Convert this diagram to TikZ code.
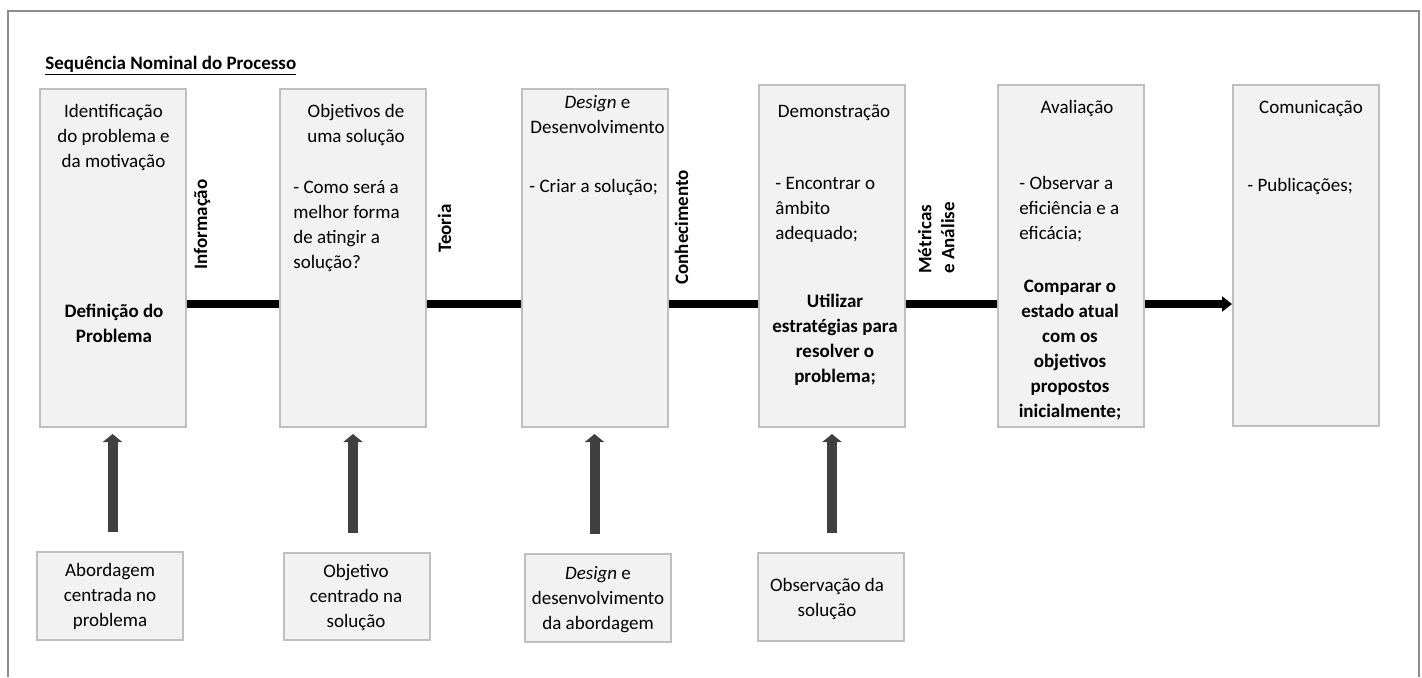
\documentclass[tikz,border=0pt]{standalone}
\usepackage{fontspec}
\setmainfont{Carlito}
\usetikzlibrary{arrows.meta}
\definecolor{boxfill}{HTML}{F2F2F2}
\definecolor{boxline}{HTML}{BFBFBF}
\definecolor{framec}{HTML}{8C8C8C}
\definecolor{upcol}{HTML}{404040}
\begin{document}
\begin{tikzpicture}[x=0.5pt,y=-0.5pt,
  every node/.style={font=\fontsize{9.5}{12.5}\selectfont, inner sep=0pt},
  stage/.style={draw=boxline, fill=boxfill, line width=1pt, minimum width=73pt},
  source/.style={draw=boxline, fill=boxfill, line width=1pt, minimum width=73pt, minimum height=44pt},
  ctxt/.style={anchor=base, align=center},
  ltxt/.style={anchor=base west, align=left},
  btxt/.style={anchor=base, align=center, font=\bfseries\fontsize{9.5}{12.5}\selectfont},
  flowlbl/.style={rotate=90, font=\bfseries\fontsize{9.5}{11.5}\selectfont},
  flow/.style={line width=4pt, black},
  feed/.style={draw=upcol, line width=5pt, -{Triangle[length=4pt,width=9.5pt]}, shorten <=9.5pt, shorten >=3pt}
]
\useasboundingbox (0,0) rectangle (1422,677);
\draw[framec, line width=0.75pt] (8,677) -- (8,11) -- (1419,11) -- (1419,677);

\node[anchor=base west, font=\bfseries\fontsize{9.5}{12.5}\selectfont] (title) at (45,69) {\underline{Sequência Nominal do Processo}};

% stage boxes
\node[stage, minimum height=169pt] (b1) at (112.5,258) {};
\node[stage, minimum height=169pt] (b2) at (353,258) {};
\node[stage, minimum height=169pt] (b3) at (594.5,258) {};
\node[stage, minimum height=171pt] (b4) at (832,256) {};
\node[stage, minimum height=171pt] (b5) at (1071,256) {};
\node[stage, minimum height=170.5pt] (b6) at (1306,255.5) {};

% texts in stage boxes (anchor base = baseline of the last line)
\node[ctxt] (t1a) at (113.5,167) {Identificação\\do problema e\\da motivação};
\node[btxt] (t1b) at (114,342) {Definição do\\Problema};
\node[ctxt] (t2a) at (356,142) {Objetivos de\\uma solução};
\node[ltxt] (t2b) at (293,268) {- Como será a\\melhor forma\\de atingir a\\solução?};
\node[ctxt] (t3a) at (597.5,133) {\textit{Design} e\\Desenvolvimento};
\node[ltxt] (t3b) at (529,192) {- Criar a solução;};
\node[ctxt] (t4a) at (834,117) {Demonstração};
\node[ltxt] (t4b) at (775,239) {- Encontrar o\\âmbito\\adequado;};
\node[btxt] (t4c) at (835,382) {Utilizar\\estratégias para\\resolver o\\problema;};
\node[ctxt] (t5a) at (1077,113) {Avaliação};
\node[ltxt] (t5b) at (1019,239) {- Observar a\\eficiência e a\\eficácia;};
\node[btxt] (t5c) at (1070,417) {Comparar o\\estado atual\\com os\\objetivos\\propostos\\inicialmente;};
\node[ctxt] (t6a) at (1311,113) {Comunicação};
\node[ltxt] (t6b) at (1247,191) {- Publicações;};

% flow connectors
\coordinate (hl) at (0,304);
\draw[flow] (b1.east |- hl) -- (b2.west |- hl);
\draw[flow] (b2.east |- hl) -- (b3.west |- hl);
\draw[flow] (b3.east |- hl) -- (b4.west |- hl);
\draw[flow] (b4.east |- hl) -- (b5.west |- hl);
\draw[flow, -{Triangle[length=5pt,width=7.5pt]}] (b5.east |- hl) -- (b6.west |- hl);

% flow labels
\node[flowlbl, anchor=base west] (l1) at (207,270) {Informação};
\node[flowlbl, anchor=base west] (l2) at (451,253) {Teoria};
\node[flowlbl, anchor=base west] (l3) at (688,285) {Conhecimento};
\node[flowlbl, anchor=south west, align=left] (l4) at (955,274) {Métricas\\e Análise};

% source boxes
\node[source] (s1) at (110,596) {};
\node[source, minimum height=43.5pt] (s2) at (356.5,596.5) {};
\node[source] (s3) at (597.5,598) {};
\node[source] (s4) at (831,597) {};

\node[ctxt] (u1) at (110,626) {Abordagem\\centrada no\\problema};
\node[ctxt] (u2) at (356,627) {Objetivo\\centrado na\\solução};
\node[ctxt] (u3) at (598,629) {\textit{Design} e\\desenvolvimento\\da abordagem};
\node[ctxt] (u4) at (827,616) {Observação da\\solução};

% feed arrows
\draw[feed] (s1.north -| b1.south) -- (b1.south);
\draw[feed] (s2.north -| b2.south) -- (b2.south);
\draw[feed] (s3.north -| b3.south) -- (b3.south);
\draw[feed] (s4.north -| b4.south) -- (b4.south);
\end{tikzpicture}
\end{document}
